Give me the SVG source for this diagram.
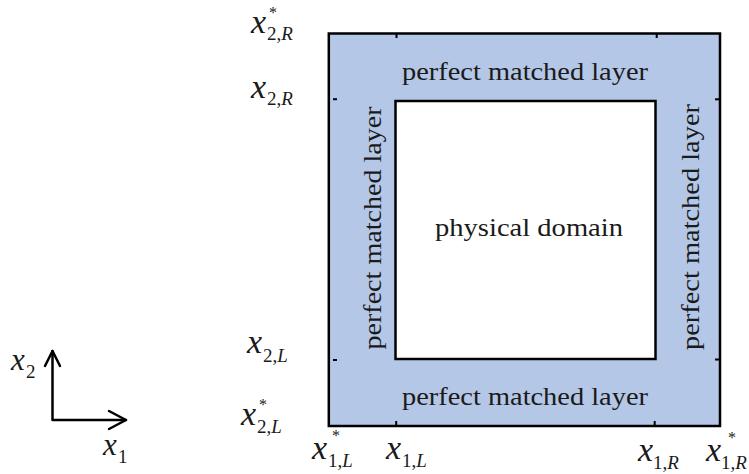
<svg xmlns="http://www.w3.org/2000/svg" width="749" height="474" viewBox="0 0 749 474">
<style>
.lbl{font-family:"Liberation Serif","Times New Roman",serif;font-size:25px;fill:#1a1a1a}
.mi{font-family:"Liberation Serif","Times New Roman",serif;font-style:italic;font-size:34px;fill:#1a1a1a}
.sub{font-family:"Liberation Serif","Times New Roman",serif;font-size:19px;fill:#1a1a1a}
.it{font-style:italic}
.star{font-family:"Liberation Serif","Times New Roman",serif;font-size:16px;fill:#1a1a1a}
.tick{stroke:#000;stroke-width:2;fill:none}
.ax{stroke:#000;stroke-width:2.5;fill:none;stroke-linecap:round;stroke-linejoin:round}
</style>
<rect width="749" height="474" fill="#fff"/>
<g id="pml">
<rect x="328.8" y="33.5" width="391.2" height="392.5" fill="#b4c7e7" stroke="#000" stroke-width="2.5"/>
<text class="lbl" x="525" y="80" text-anchor="middle" textLength="246" lengthAdjust="spacingAndGlyphs">perfect matched layer</text>
<text class="lbl" x="525" y="405" text-anchor="middle" textLength="246" lengthAdjust="spacingAndGlyphs">perfect matched layer</text>
<text class="lbl" transform="translate(381,228) rotate(-90)" text-anchor="middle" textLength="243" lengthAdjust="spacingAndGlyphs">perfect matched layer</text>
<text class="lbl" transform="translate(699,227) rotate(-90)" text-anchor="middle" textLength="246" lengthAdjust="spacingAndGlyphs">perfect matched layer</text>
</g>
<g id="physical">
<rect x="395.5" y="101" width="260" height="258" fill="#fff" stroke="#000" stroke-width="2.5"/>
<text class="lbl" x="529" y="236" text-anchor="middle" textLength="188" lengthAdjust="spacingAndGlyphs">physical domain</text>
</g>
<g id="ticks">
<line class="tick" x1="396.5" y1="34" x2="396.5" y2="38"/>
<line class="tick" x1="656.7" y1="34" x2="656.7" y2="38"/>
<line class="tick" x1="396.2" y1="421" x2="396.2" y2="426"/>
<line class="tick" x1="654.7" y1="421" x2="654.7" y2="426"/>
<line class="tick" x1="333" y1="99.2" x2="337" y2="99.2"/>
<line class="tick" x1="333" y1="360" x2="337" y2="360"/>
<line class="tick" x1="715" y1="99.3" x2="720" y2="99.3"/>
<line class="tick" x1="715" y1="359.5" x2="720" y2="359.5"/>
</g>
<g id="labels">
<text class="mi" x="251" y="33">x</text><text class="star" x="269" y="18">*</text><text class="sub" x="267" y="40">2,<tspan class="it">R</tspan></text>
<text class="mi" x="251" y="98">x</text><text class="sub" x="267" y="105">2,<tspan class="it">R</tspan></text>
<text class="mi" x="247" y="353">x</text><text class="sub" x="263" y="362">2,<tspan class="it">L</tspan></text>
<text class="mi" x="241" y="425">x</text><text class="star" x="259" y="410">*</text><text class="sub" x="257" y="433">2,<tspan class="it">L</tspan></text>
<text class="mi" x="312" y="459">x</text><text class="star" x="332" y="441">*</text><text class="sub" x="328" y="467">1,<tspan class="it">L</tspan></text>
<text class="mi" x="386" y="459">x</text><text class="sub" x="402" y="467">1,<tspan class="it">L</tspan></text>
<text class="mi" x="638" y="461">x</text><text class="sub" x="653" y="469">1,<tspan class="it">R</tspan></text>
<text class="mi" x="706" y="461">x</text><text class="star" x="728" y="443">*</text><text class="sub" x="721" y="469">1,<tspan class="it">R</tspan></text>
</g>
<g id="axes">
<polyline class="ax" points="52.5,351 52.5,420 126,420"/>
<polyline class="ax" points="45,366 52.5,351 60,366"/>
<polyline class="ax" points="109,411 126,420 109,429"/>
<text class="mi" x="11" y="370" style="font-size:31px">x</text><text class="sub" x="26" y="378">2</text>
<text class="mi" x="103" y="455" style="font-size:31px">x</text><text class="sub" x="118" y="463">1</text>
</g>
</svg>
